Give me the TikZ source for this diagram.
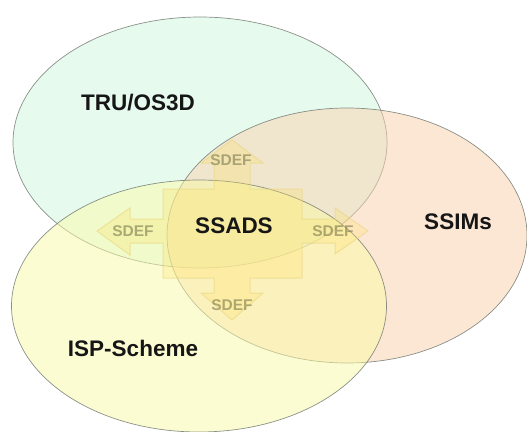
\documentclass[tikz,border=0pt]{standalone}
\usepackage{fontspec}
\setsansfont{Liberation Sans}
\usepackage{tikz}
\usetikzlibrary{shapes.geometric}
\definecolor{mintfill}{RGB}{206,246,222}
\definecolor{peachfill}{RGB}{250,208,172}
\definecolor{lemonfill}{RGB}{250,250,165}
\definecolor{rimgrey}{RGB}{110,118,110}
\definecolor{inkblack}{RGB}{22,22,22}
\definecolor{crossyellow}{RGB}{255,226,100}
\definecolor{crossedge}{RGB}{232,214,130}
\definecolor{olivegrey}{RGB}{110,110,70}

\begin{document}
\begin{tikzpicture}[x=1pt, y=-1pt,
    blob/.style={ellipse, draw=rimgrey, draw opacity=0.8, line width=0.7pt,
                 fill opacity=0.5, inner sep=0pt},
    tag/.style={font=\sffamily\bfseries\fontsize{22.5}{24}\selectfont, text=inkblack},
    sdef/.style={font=\sffamily\bfseries\fontsize{15.5}{17}\selectfont,
                 text=olivegrey, text opacity=0.55},
    arms/.style={fill=crossyellow, fill opacity=0.28, draw=crossedge,
                 draw opacity=0.6, line width=1pt}
  ]
  \useasboundingbox (0,0) rectangle (527,431);

  \node[blob, fill=mintfill, minimum width=374pt, minimum height=251pt] (tru) at (200,142.5) {};
  \node[blob, fill=peachfill, minimum width=360pt, minimum height=255pt] (ssim) at (347,235.5) {};
  \node[blob, fill=lemonfill, minimum width=375pt, minimum height=252pt] (isp) at (199,306) {};

  % the SDEF cross around the centre
  \coordinate (hub) at (232,231);
  \begin{scope}[shift={(hub)}]
    \path[arms] (0,-91) -- (31,-68) -- (18,-68) -- (18,-42) -- (70,-42) -- (70,-12)
      -- (103,-12) -- (103,-23) -- (136,0) -- (103,23) -- (103,12) -- (70,12)
      -- (70,47) -- (18,47) -- (18,62) -- (31,62) -- (0,89) -- (-31,62) -- (-18,62)
      -- (-18,47) -- (-69,47) -- (-69,12) -- (-102,12) -- (-102,24) -- (-135,0)
      -- (-102,-23) -- (-102,-12) -- (-69,-12) -- (-69,-42) -- (-18,-42)
      -- (-18,-68) -- (-31,-68) -- cycle;
  \end{scope}

  \node[sdef] (sdefup) at (231,160) {SDEF};
  \node[sdef] (sdefleft) at (133,231) {SDEF};
  \node[sdef] (sdefright) at (333,231) {SDEF};
  \node[sdef] (sdefdown) at (232,305) {SDEF};

  \node[tag] (trulbl) at (138,103) {TRU/OS3D};
  \node[tag] (ssimlbl) at (458,222) {SSIMs};
  \node[tag] (ssads) at (234,226) {SSADS};
  \node[tag] (isplbl) at (133,348) {ISP-Scheme};
\end{tikzpicture}
\end{document}
